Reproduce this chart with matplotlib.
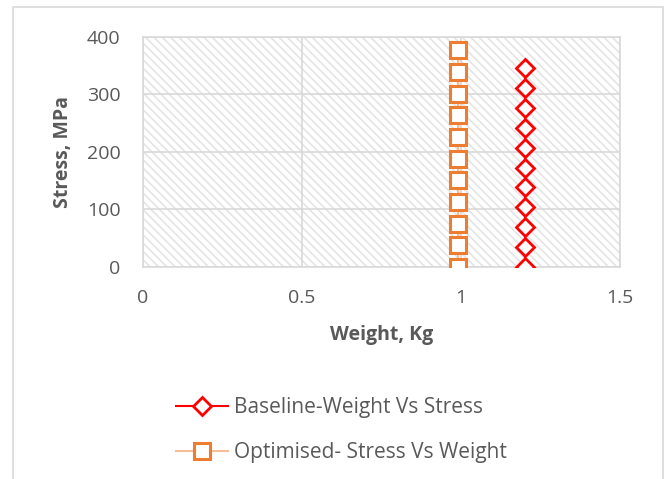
import matplotlib.pyplot as plt
from matplotlib.patches import Rectangle

# 应力-重量数据
baseline_weight = [1.2] * 11
baseline_stress = [0, 34.6, 69.2, 103.8, 138.4, 173.0, 207.6, 242.2, 276.8, 311.4, 346.0]
optimised_weight = [0.99] * 11
optimised_stress = [0, 37.7, 75.4, 113.1, 150.8, 188.5, 226.2, 263.9, 301.6, 339.3, 377.0]

x_ticks = [0, 0.5, 1, 1.5]
y_ticks = [0, 100, 200, 300, 400]

plt.rcParams['font.family'] = ['Open Sans', 'DejaVu Sans']
plt.rcParams['hatch.linewidth'] = 1.2
text_color = '#595959'
grid_color = '#d9d9d9'

fig = plt.figure(figsize=(6.68, 4.79), dpi=100)
ax = fig.add_axes([0.214, 0.4426, 0.714, 0.4802])

# 外框
fig.patches.append(Rectangle((13 / 668, -0.1), 650 / 668, 1.1 - 7 / 479,
                             transform=fig.transFigure, fill=False,
                             edgecolor=grid_color, linewidth=1.2))

# 绘图区斜线填充
ax.add_patch(Rectangle((0, 0), 1, 1, transform=ax.transAxes, fill=False,
                       hatch='\\\\\\\\', edgecolor='#e4e4e4', linewidth=0, zorder=0))

ax.plot(baseline_weight, baseline_stress, color='#ff0000', linewidth=1.5,
        marker='D', markersize=9, markerfacecolor='white',
        markeredgecolor='#ff0000', markeredgewidth=2, zorder=3,
        label='Baseline-Weight Vs Stress')
ax.plot(optimised_weight, optimised_stress, color='#f6be98', linewidth=1.5,
        marker='s', markersize=11, markerfacecolor='white',
        markeredgecolor='#ed7d31', markeredgewidth=2.2, zorder=3,
        label='Optimised- Stress Vs Weight')

ax.set_xlim(0, 1.5)
ax.set_ylim(0, 400)
ax.set_xticks(x_ticks)
ax.set_xticklabels(['0', '0.5', '1', '1.5'])
ax.set_yticks(y_ticks)
ax.grid(True, color=grid_color, linewidth=1.2, zorder=1)
ax.set_axisbelow(True)
for s in ax.spines.values():
    s.set_color(grid_color)
    s.set_linewidth(1.2)
ax.tick_params(length=0, labelsize=14, colors=text_color, pad=16)

ax.set_xlabel('Weight, Kg', fontsize=14, fontweight='bold', color=text_color, labelpad=13)
ax.set_ylabel('Stress, MPa', fontsize=14, fontweight='bold', color=text_color, labelpad=10)

fig.legend(loc='upper left', bbox_to_anchor=(176 / 668, 1 - 397 / 479), frameon=False,
           fontsize=15, labelcolor=text_color, handlelength=2.5,
           labelspacing=1.15, handletextpad=0.3, borderpad=0, borderaxespad=0)

plt.savefig('out.png', dpi=100)
